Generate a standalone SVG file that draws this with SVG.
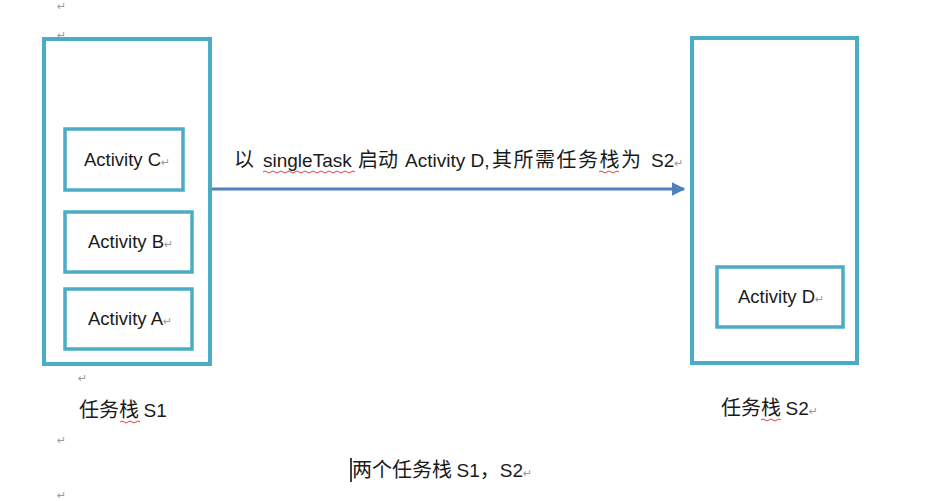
<svg xmlns="http://www.w3.org/2000/svg" width="938" height="501" viewBox="0 0 938 501">
<defs>
<style>
.stack{fill:none;stroke:#4BACC6;stroke-width:4}
.act{fill:#fff;stroke:#4BACC6;stroke-width:3.5}
.t{font-family:"Liberation Sans","Noto Sans CJK SC",sans-serif;font-size:18.5px;fill:#1a1a1a}
.cn{font-family:"Noto Sans CJK SC","Liberation Sans",sans-serif;font-size:20px;fill:#1a1a1a}
.lat{font-family:"Liberation Sans",sans-serif;font-size:19px}
.pm{font-family:"DejaVu Sans",sans-serif;font-size:11px;fill:#999}
.wave{fill:none;stroke:#e04040;stroke-width:1}
</style>
<marker id="arr" viewBox="0 0 10 10" refX="9" refY="5" markerWidth="4.5" markerHeight="4.5" orient="auto">
<path d="M0,0 L10,5 L0,10 z" fill="#4F81BD"/>
</marker>
</defs>
<rect width="938" height="501" fill="#fff"/>
<g id="marks" class="pm">
<text x="57" y="10">↵</text>
<text x="57" y="39">↵</text>
<text x="78" y="382">↵</text>
<text x="57" y="444">↵</text>
<text x="57" y="499">↵</text>
</g>
<g id="connectors">
<line x1="211" y1="189" x2="684" y2="189" stroke="#4F81BD" stroke-width="3" marker-end="url(#arr)"/>
<text class="cn" x="234" y="167">以<tspan class="lat" x="263">singleTask</tspan><tspan x="358">启动</tspan><tspan class="lat" x="405">Activity D,</tspan><tspan x="492" letter-spacing="1.5">其所需任务栈为</tspan><tspan class="lat" x="651">S2</tspan><tspan class="pm">↵</tspan></text>
<path class="wave" d="M263,172 q2,-2 4,0 t4,0 t4,0 t4,0 t4,0 t4,0 t4,0 t4,0 t4,0 t4,0 t4,0 t4,0 t4,0 t4,0 t4,0 t4,0 t4,0 t4,0 t4,0 t4,0 t4,0 t4,0 t4,0"/>
<path class="wave" d="M599,172 q2,-2 4,0 t4,0 t4,0 t4,0 t4,0"/>
</g>
<g id="stackS1">
<rect class="stack" x="44" y="39" width="166" height="325"/>
<text class="cn" x="79" y="417">任务栈 <tspan class="lat">S1</tspan></text>
<path class="wave" d="M120,422 q2,-2 4,0 t4,0 t4,0 t4,0 t4,0"/>
</g>
<g id="activityC">
<rect class="act" x="65" y="129" width="118" height="61"/>
<text class="t" x="84" y="166">Activity C<tspan class="pm">↵</tspan></text>
</g>
<g id="activityB">
<rect class="act" x="65" y="212" width="127" height="60"/>
<text class="t" x="88" y="248">Activity B<tspan class="pm">↵</tspan></text>
</g>
<g id="activityA">
<rect class="act" x="65" y="289" width="127" height="60"/>
<text class="t" x="88" y="325">Activity A<tspan class="pm">↵</tspan></text>
</g>
<g id="stackS2">
<rect class="stack" x="692" y="38" width="165" height="325"/>
<text class="cn" x="721" y="415">任务栈 <tspan class="lat">S2</tspan><tspan class="pm">↵</tspan></text>
<path class="wave" d="M761,420 q2,-2 4,0 t4,0 t4,0 t4,0 t4,0"/>
</g>
<g id="activityD">
<rect class="act" x="717" y="267" width="126" height="60"/>
<text class="t" x="738" y="303">Activity D<tspan class="pm">↵</tspan></text>
</g>
<g id="caption">
<line x1="351" y1="458" x2="351" y2="482" stroke="#000" stroke-width="1.5"/>
<text class="cn" x="352" y="477">两个任务栈 <tspan class="lat">S1</tspan>，<tspan class="lat">S2</tspan><tspan class="pm">↵</tspan></text>
</g>
</svg>
